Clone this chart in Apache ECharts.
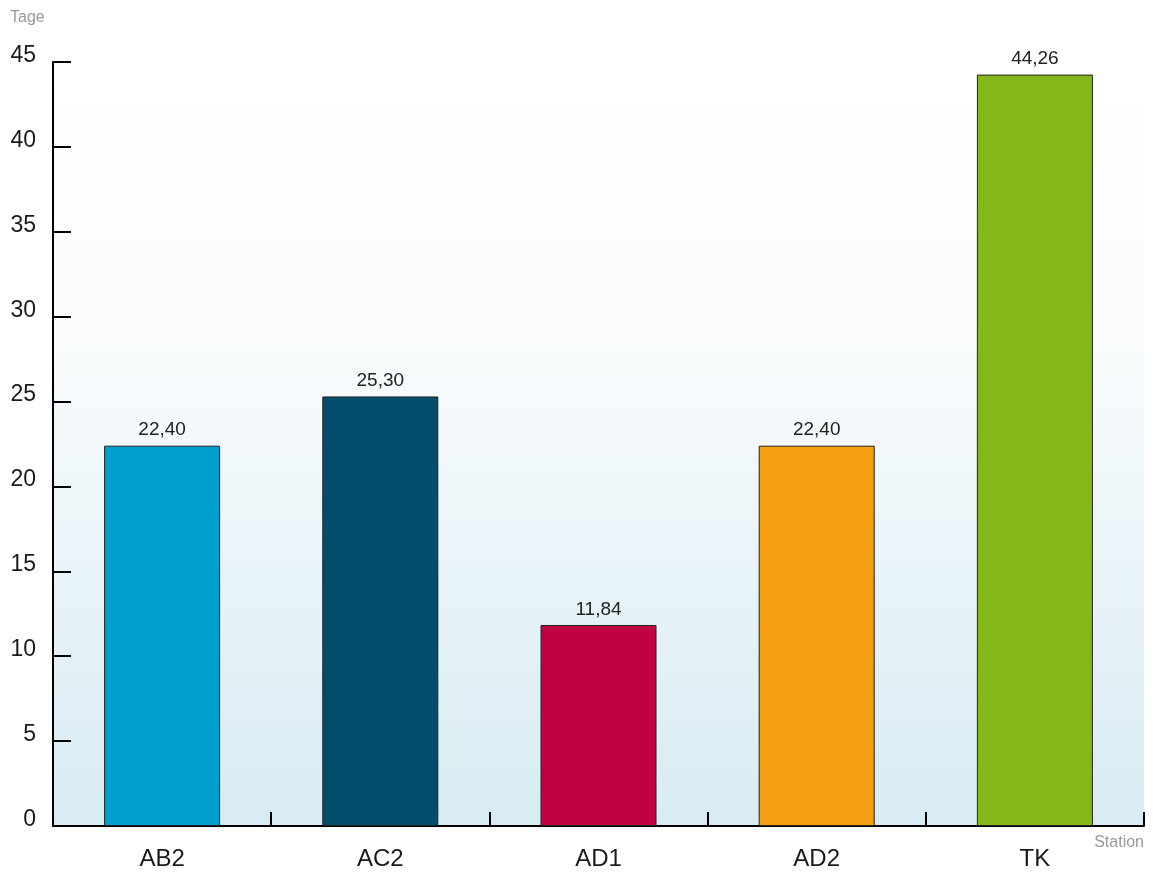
<!DOCTYPE html>
<html>
<head>
<meta charset="utf-8">
<script src="https://cdn.jsdelivr.net/npm/echarts@6/dist/echarts.min.js"></script>
<style>html,body{margin:0;padding:0;background:#fff}#c{width:1153px;height:874px}</style>
</head>
<body>
<div id="c"></div>
<script>
const categories = ['AB2', 'AC2', 'AD1', 'AD2', 'TK'];
const values = [22.40, 25.30, 11.84, 22.40, 44.26];
const barColors = ['#009fcd', '#024c6c', '#c20044', '#f39f11', '#84b81a'];
const yAxisName = 'Tage';
const xAxisName = 'Station';

const chart = echarts.init(document.getElementById('c'));
const fontFam = '"Liberation Sans", Arial, sans-serif';
chart.setOption({
  animation: false,
  textStyle: { fontFamily: fontFam },
  grid: {
    left: 53, right: 9, top: 62, bottom: 48,
    containLabel: false,
    outerBoundsMode: 'none',
    show: true, borderWidth: 0,
    backgroundColor: new echarts.graphic.LinearGradient(0, 0, 0, 1, [
      { offset: 0, color: '#ffffff' },
      { offset: 0.35, color: '#fafcfd' },
      { offset: 1, color: '#d8ebf3' }
    ])
  },
  xAxis: {
    type: 'category',
    data: categories,
    name: xAxisName,
    nameLocation: 'end',
    nameGap: 0,
    nameTextStyle: { color: '#999', fontSize: 16, align: 'right', verticalAlign: 'top', padding: [9, 0, 0, 0], fontFamily: fontFam },
    axisLine: { show: true, lineStyle: { color: '#000', width: 2 } },
    axisTick: { show: true, alignWithLabel: false, interval: 0, inside: true, length: 14, lineStyle: { color: '#000', width: 2 } },
    axisLabel: { color: '#1a1a1a', fontSize: 24, margin: 21, fontFamily: fontFam }
  },
  yAxis: {
    type: 'value',
    min: 0, max: 45, interval: 5,
    name: yAxisName,
    nameLocation: 'end',
    nameGap: 36,
    nameTextStyle: { color: '#999', fontSize: 16, align: 'left', padding: [0, 0, 0, -43], fontFamily: fontFam },
    splitLine: { show: false },
    axisLine: { show: true, lineStyle: { color: '#000', width: 2 } },
    axisTick: { show: true, inside: true, length: 18, lineStyle: { color: '#000', width: 2 } },
    axisLabel: { color: '#1a1a1a', fontSize: 23, margin: 17, verticalAlign: 'bottom', padding: [0, 0, -5, 0], fontFamily: fontFam }
  },
  series: [{
    type: 'bar',
    data: values.map((v, i) => ({ value: v, itemStyle: { color: barColors[i] } })),
    barWidth: 116,
    itemStyle: { borderColor: '#222', borderWidth: 1 },
    label: {
      show: true, position: 'top', distance: 6,
      color: '#222', fontSize: 19, fontFamily: fontFam,
      formatter: p => p.value.toFixed(2).replace('.', ',')
    }
  }]
});
</script>
</body>
</html>
